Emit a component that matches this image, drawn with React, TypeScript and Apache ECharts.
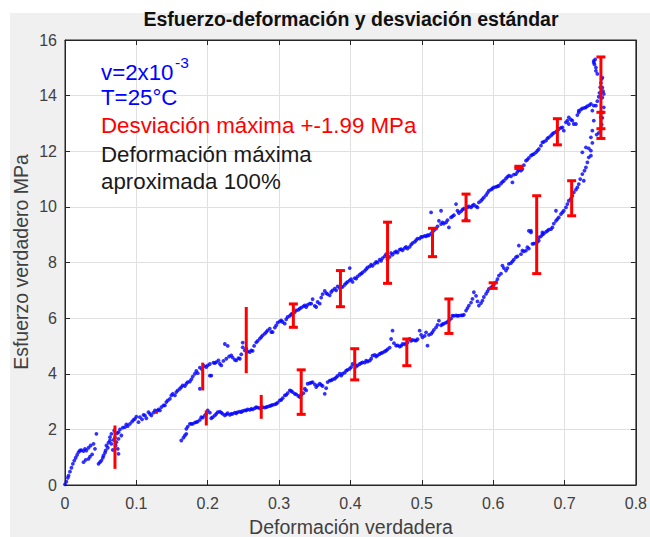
import React, { useEffect, useRef } from "react";
import * as echarts from "echarts";

// Tick labels
const xTicks = ["0", "0.1", "0.2", "0.3", "0.4", "0.5", "0.6", "0.7", "0.8"];
const yTicks = ["0", "2", "4", "6", "8", "10", "12", "14", "16"];

// Loading branch: [true strain, true stress MPa]
const loading: number[][] = [
  [0.000,0.02],[0.002,0.12],[0.004,0.26],[0.005,0.34],[0.007,0.48],[0.009,0.62],[0.011,0.76],[0.013,0.88],[0.015,0.98],[0.017,1.08],
  [0.019,1.18],[0.021,1.24],[0.023,1.25],[0.026,1.22],[0.028,1.30],[0.030,1.24],[0.033,1.34],[0.036,1.42],[0.040,1.48],[0.042,1.30],
  [0.044,1.84],[0.026,0.82],[0.029,0.90],[0.033,0.94],[0.035,1.02],[0.038,1.10],[0.047,0.76],[0.049,0.82],[0.051,0.88],[0.053,0.98],
  [0.054,1.06],[0.056,1.16],[0.057,1.24],[0.058,1.42],[0.060,1.34],[0.061,1.52],[0.063,1.60],[0.063,1.72],[0.065,1.84],[0.065,1.48],
  [0.067,1.26],[0.068,1.62],[0.069,1.96],[0.070,1.70],[0.071,1.42],[0.072,1.54],[0.073,1.86],[0.074,1.30],[0.075,1.66],[0.075,1.90],
  [0.075,1.12],[0.077,2.00],[0.079,1.78],[0.081,2.06],[0.084,2.08],[0.086,2.18],[0.088,2.12],[0.091,2.20],[0.094,2.28],[0.096,2.34],
  [0.098,2.38],[0.100,2.46],[0.103,2.26],[0.105,2.44],[0.108,2.36],[0.110,2.52],[0.112,2.50],[0.114,2.40],[0.117,2.62],[0.119,2.56],
  [0.121,2.50],[0.124,2.60],[0.126,2.68],[0.129,2.66],[0.131,2.72],[0.133,2.68],[0.135,2.80],[0.138,2.86],[0.140,2.86],[0.142,2.98],
  [0.144,3.04],[0.147,3.10],[0.149,3.22],[0.151,3.28],[0.154,3.22],[0.156,3.34],[0.158,3.40],[0.161,3.46],[0.163,3.52],[0.165,3.58],
  [0.168,3.56],[0.170,3.64],[0.172,3.70],[0.175,3.72],[0.177,3.80],[0.179,3.90],[0.182,4.00],[0.184,4.10],[0.186,4.02],[0.189,3.46],
  [0.189,4.22],[0.192,4.16],[0.195,4.28],[0.198,4.24],[0.200,4.30],[0.203,4.35],[0.203,3.93],[0.205,3.93],[0.208,4.40],[0.210,4.38],
  [0.212,4.42],[0.215,4.48],[0.217,4.36],[0.219,4.30],[0.222,4.46],[0.224,5.07],[0.226,4.54],[0.228,5.00],[0.230,4.62],[0.233,4.66],
  [0.235,4.58],[0.238,4.50],[0.240,4.48],[0.243,4.56],[0.245,4.54],[0.247,4.70],[0.249,5.12],[0.249,4.95],[0.252,4.84],[0.254,4.90],
  [0.256,4.80],[0.259,4.78],[0.261,4.84],[0.263,4.82],[0.265,5.00],[0.268,5.13],[0.270,5.18],[0.273,5.26],[0.275,5.32],[0.277,5.38],
  [0.280,5.44],[0.282,5.50],[0.284,5.56],[0.287,5.62],[0.289,5.50],[0.291,5.50],[0.294,5.66],[0.296,5.74],[0.298,5.84],[0.301,5.88],
  [0.303,5.92],[0.305,5.86],[0.308,5.80],[0.310,5.96],[0.312,6.04],[0.315,6.08],[0.317,6.14],[0.319,6.16],[0.322,6.22],[0.324,6.28],
  [0.327,6.30],[0.329,6.34],[0.331,6.38],[0.334,6.42],[0.336,6.46],[0.338,6.40],[0.340,6.48],[0.343,6.52],[0.345,6.52],[0.347,6.68],
  [0.350,6.44],[0.352,6.40],[0.354,6.58],[0.357,6.52],[0.359,6.74],[0.361,6.86],[0.364,6.98],[0.366,6.90],[0.368,6.86],[0.371,6.82],
  [0.373,6.94],[0.375,7.00],[0.378,7.06],[0.380,7.00],[0.382,7.14],[0.385,7.08],[0.387,7.12],[0.389,7.12],[0.392,7.20],[0.394,7.26],
  [0.396,7.30],[0.399,7.36],[0.399,7.80],[0.401,7.40],[0.403,7.30],[0.406,7.44],[0.408,7.42],[0.410,7.50],[0.413,7.56],[0.415,7.60],
  [0.417,7.64],[0.420,7.70],[0.422,7.76],[0.424,7.82],[0.427,7.86],[0.429,7.92],[0.431,7.88],[0.434,7.96],[0.436,8.02],[0.438,8.00],
  [0.441,8.10],[0.443,8.06],[0.445,8.16],[0.448,8.22],[0.450,8.30],[0.452,8.12],[0.455,8.20],[0.457,8.34],[0.459,8.28],[0.462,8.36],
  [0.464,8.40],[0.466,8.36],[0.469,8.46],[0.471,8.48],[0.473,8.44],[0.476,8.52],[0.478,8.56],[0.480,8.50],[0.483,8.56],[0.485,8.64],
  [0.487,8.70],[0.490,8.74],[0.492,8.80],[0.494,8.86],[0.497,8.86],[0.499,8.92],[0.501,8.92],[0.504,8.96],[0.506,8.94],[0.508,8.98],
  [0.510,8.98],[0.513,9.80],[0.513,9.04],[0.515,9.10],[0.517,9.16],[0.520,9.22],[0.522,9.30],[0.524,9.50],[0.527,9.86],[0.527,9.38],
  [0.529,9.44],[0.531,9.40],[0.534,9.44],[0.536,9.52],[0.538,9.26],[0.541,9.62],[0.543,9.66],[0.545,9.70],[0.548,10.10],[0.550,9.86],
  [0.552,9.78],[0.555,9.84],[0.557,9.90],[0.559,9.94],[0.562,9.56],[0.564,9.98],[0.566,10.02],[0.569,9.98],[0.571,10.04],[0.573,10.08],
  [0.576,10.02],[0.578,9.98],[0.580,10.16],[0.583,10.22],[0.585,10.28],[0.587,10.34],[0.590,10.42],[0.592,10.50],[0.594,10.58],[0.597,10.62],
  [0.599,10.66],[0.601,10.70],[0.604,10.72],[0.606,10.74],[0.608,10.76],[0.611,10.84],[0.613,10.90],[0.615,10.94],[0.618,11.02],[0.620,11.08],
  [0.622,11.12],[0.625,11.10],[0.627,10.88],[0.629,11.16],[0.632,11.18],[0.634,11.26],[0.636,11.32],[0.639,11.30],[0.641,11.36],[0.643,11.50],
  [0.646,11.66],[0.648,11.70],[0.650,11.76],[0.653,11.84],[0.655,11.88],[0.657,11.90],[0.660,11.96],[0.662,12.02],[0.664,12.08],[0.667,12.20],
  [0.669,12.32],[0.671,12.34],[0.674,12.38],[0.676,12.46],[0.678,12.50],[0.681,12.56],[0.683,12.62],[0.685,12.66],[0.688,12.70],[0.690,12.74],
  [0.692,12.80],[0.695,12.84],[0.697,12.86],[0.699,12.74],[0.702,13.04],[0.704,13.10],[0.706,13.22],[0.706,12.98],[0.709,13.14],[0.711,13.10],
  [0.713,12.98],[0.716,12.98],[0.718,13.30],[0.720,13.46],[0.720,13.40],[0.723,13.50],[0.725,13.54],[0.728,13.56],[0.730,13.58],[0.732,13.62],
  [0.735,13.66],[0.737,13.70],[0.739,13.46],[0.741,13.64],[0.744,13.64],[0.746,13.80],[0.748,13.96],[0.749,14.10],[0.750,14.30],[0.751,14.46],
  [0.752,14.60],[0.753,14.65],[0.753,14.29],[0.754,14.16],[0.755,14.06],[0.755,13.58],[0.753,13.93],[0.751,13.22],[0.746,14.78],[0.744,14.89],
  [0.744,15.01],[0.742,15.12],[0.741,15.19],[0.741,15.25],[0.743,15.30],
];

// Unloading branch: [true strain, true stress MPa]
const unloading: number[][] = [
  [0.754,13.40],[0.753,13.20],[0.752,12.96],[0.750,12.80],[0.748,12.66],[0.745,12.60],[0.741,13.10],[0.739,12.74],[0.737,12.50],[0.739,12.30],
  [0.737,12.02],[0.734,12.10],[0.730,12.14],[0.737,11.84],[0.734,11.78],[0.725,11.96],[0.732,11.60],[0.730,11.42],[0.728,11.30],[0.725,11.18],
  [0.727,10.94],[0.722,11.00],[0.720,10.82],[0.718,10.70],[0.716,10.62],[0.713,10.52],[0.711,10.40],[0.709,10.30],[0.706,10.22],[0.704,10.10],
  [0.702,9.98],[0.699,9.86],[0.697,9.80],[0.695,9.74],[0.692,9.62],[0.690,9.56],[0.688,9.86],[0.688,9.50],[0.685,9.40],[0.683,9.26],
  [0.681,9.20],[0.678,9.18],[0.676,9.14],[0.674,9.10],[0.671,9.04],[0.669,9.08],[0.669,9.00],[0.667,8.94],[0.664,8.90],[0.664,8.79],
  [0.662,8.74],[0.660,8.70],[0.657,8.68],[0.655,8.67],[0.653,9.14],[0.653,9.08],[0.650,9.14],[0.650,8.50],[0.648,8.55],[0.646,8.43],
  [0.643,8.40],[0.641,8.43],[0.639,8.30],[0.636,8.61],[0.634,8.22],[0.632,8.19],[0.629,8.10],[0.627,8.04],[0.625,7.98],[0.622,7.95],
  [0.620,7.80],[0.618,7.71],[0.615,7.80],[0.613,7.89],[0.611,7.60],[0.608,7.53],[0.606,7.40],[0.604,7.29],[0.601,7.20],[0.599,7.14],
  [0.597,7.10],[0.594,7.05],[0.592,6.96],[0.590,6.87],[0.587,6.76],[0.585,6.63],[0.583,6.54],[0.580,6.45],[0.578,6.60],[0.576,6.80],
  [0.573,6.93],[0.571,6.69],[0.569,6.56],[0.566,6.45],[0.564,6.36],[0.562,6.27],[0.559,6.12],[0.557,6.10],[0.555,6.10],[0.552,6.09],
  [0.550,6.08],[0.548,6.10],[0.545,6.08],[0.543,6.09],[0.541,5.98],[0.538,5.91],[0.536,5.86],[0.534,5.84],[0.531,5.80],[0.529,5.78],
  [0.527,5.74],[0.524,5.91],[0.522,5.76],[0.520,5.67],[0.517,5.58],[0.515,5.50],[0.513,5.43],[0.510,5.40],[0.508,5.01],[0.506,5.49],
  [0.504,5.36],[0.501,5.31],[0.499,5.40],[0.497,5.55],[0.494,5.24],[0.492,5.19],[0.490,5.20],[0.487,5.22],[0.485,5.18],[0.483,5.25],
  [0.480,5.12],[0.478,5.08],[0.476,5.06],[0.473,5.07],[0.471,5.00],[0.469,4.98],[0.466,5.02],[0.464,5.01],[0.461,5.10],[0.459,5.55],
  [0.457,5.25],[0.455,4.94],[0.452,4.88],[0.450,4.83],[0.448,4.80],[0.445,4.76],[0.443,4.74],[0.441,4.71],[0.438,4.66],[0.436,4.62],
  [0.434,4.68],[0.431,4.65],[0.429,4.54],[0.427,4.47],[0.424,4.44],[0.422,4.47],[0.420,4.40],[0.417,4.41],[0.415,4.38],[0.413,4.35],
  [0.410,4.30],[0.408,4.26],[0.406,4.34],[0.403,4.35],[0.401,4.24],[0.399,4.18],[0.396,4.14],[0.394,4.11],[0.392,4.04],[0.389,4.00],
  [0.387,3.93],[0.385,4.00],[0.382,3.92],[0.380,3.87],[0.378,3.82],[0.375,3.80],[0.373,3.76],[0.371,3.75],[0.368,3.70],[0.366,3.48],
  [0.364,3.28],[0.361,3.56],[0.359,3.60],[0.357,3.64],[0.354,3.58],[0.352,3.52],[0.350,3.62],[0.347,3.70],[0.345,3.68],[0.343,3.66],
  [0.340,3.64],[0.338,3.40],[0.336,3.46],[0.334,3.30],[0.331,3.24],[0.329,3.16],[0.327,3.20],[0.324,3.26],[0.322,3.28],[0.319,3.34],
  [0.317,3.38],[0.315,3.40],[0.312,3.30],[0.310,3.24],[0.308,3.22],[0.305,3.12],[0.303,3.06],[0.301,3.04],[0.298,2.96],[0.296,2.92],
  [0.294,2.90],[0.291,2.88],[0.289,2.86],[0.287,2.84],[0.284,2.82],[0.282,2.80],[0.280,2.78],[0.277,2.80],[0.275,2.78],[0.273,2.76],
  [0.270,2.78],[0.268,2.80],[0.266,2.76],[0.263,2.72],[0.261,2.74],[0.259,2.70],[0.256,2.72],[0.254,2.68],[0.252,2.68],[0.249,2.66],
  [0.247,2.62],[0.245,2.64],[0.242,2.62],[0.240,2.58],[0.238,2.60],[0.235,2.56],[0.233,2.56],[0.231,2.52],[0.228,2.58],[0.226,2.54],
  [0.224,2.50],[0.221,2.56],[0.219,2.60],[0.217,2.64],[0.214,2.62],[0.212,2.56],[0.210,2.50],[0.207,2.44],[0.205,2.40],[0.203,2.60],
  [0.200,2.68],[0.198,2.56],[0.196,2.50],[0.193,2.42],[0.191,2.44],[0.189,2.34],[0.186,2.28],[0.184,2.26],[0.182,2.24],[0.179,2.20],
  [0.177,2.20],[0.175,2.20],[0.172,2.10],[0.170,2.02],[0.170,1.84],[0.168,1.78],[0.166,1.70],[0.163,1.60],
];

// Standard deviation bars: [strain, mean stress, deviation]
const deviationPlain: number[][] = [
  [0.070, 1.36, 0.78],
  [0.128, 2.60, 0.04],
  [0.193, 3.90, 0.50],
  [0.254, 5.21, 1.19],
  [0.198, 2.41, 0.27],
  [0.275, 2.81, 0.43],
];
const deviationCapped: number[][] = [
  [0.320, 6.09, 0.42],
  [0.386, 7.06, 0.65],
  [0.452, 8.35, 1.10],
  [0.515, 8.72, 0.51],
  [0.562, 9.98, 0.48],
  [0.636, 11.42, 0.04],
  [0.690, 12.70, 0.47],
  [0.751, 14.10, 1.29],
  [0.751, 12.93, 0.47],
  [0.331, 3.34, 0.80],
  [0.406, 4.34, 0.56],
  [0.479, 4.77, 0.48],
  [0.538, 6.07, 0.62],
  [0.600, 7.17, 0.10],
  [0.661, 9.00, 1.40],
  [0.710, 10.31, 0.63],
];

const FONT = "'Liberation Sans', Arial, Helvetica, sans-serif";
const RED = "#ff0000";
const BLUE = "#0000ff";
const AXIS = "#262626";
const LABEL = "#404040";
const NOTE_SIZE = 22.3;

function errorBarRenderer(capHalf: number) {
  return (params: any, api: any) => {
    const x = api.value(0);
    const m = api.value(1);
    const e = api.value(2);
    const top = api.coord([x, m + e]);
    const bot = api.coord([x, m - e]);
    const style = { stroke: RED, lineWidth: 3 };
    const children: any[] = [
      { type: "line", shape: { x1: top[0], y1: top[1], x2: bot[0], y2: bot[1] }, style },
    ];
    if (capHalf > 0) {
      children.push(
        { type: "line", shape: { x1: top[0] - capHalf, y1: top[1], x2: top[0] + capHalf, y2: top[1] }, style },
        { type: "line", shape: { x1: bot[0] - capHalf, y1: bot[1], x2: bot[0] + capHalf, y2: bot[1] }, style }
      );
    }
    return { type: "group", children };
  };
}

export default function App() {
  const ref = useRef<HTMLDivElement>(null);

  useEffect(() => {
    if (!ref.current) return;
    const chart = echarts.init(ref.current, null, { renderer: "svg" });

    const baseAxis = {
      type: "value" as const,
      axisLine: { show: true, onZero: false, lineStyle: { color: AXIS, width: 1 } },
      axisTick: { show: true, inside: true, length: 5, lineStyle: { color: AXIS } },
    };

    const note = (text: string, x: number, y: number, fill: string, size = NOTE_SIZE) => ({
      type: "text",
      x,
      y,
      z: 10,
      style: { text, fontFamily: FONT, fontSize: size, fill, textVerticalAlign: "middle" },
    });

    chart.setOption({
      animation: false,
      grid: {
        left: 65,
        right: 13,
        top: 40,
        bottom: 52,
        show: true,
        backgroundColor: "#ffffff",
        borderColor: AXIS,
        borderWidth: 1,
      },
      xAxis: [
        {
          ...baseAxis,
          position: "bottom",
          min: 0,
          max: 0.8,
          interval: 0.1,
          axisLabel: {
            fontSize: 16,
            color: LABEL,
            fontFamily: FONT,
            margin: 10,
            formatter: (v: number) => xTicks[Math.round(v * 10)] ?? "",
          },
          splitLine: { show: true, lineStyle: { color: "#e0e0e0", width: 1 } },
        },
        {
          ...baseAxis,
          position: "top",
          min: 0,
          max: 0.8,
          interval: 0.1,
          axisLabel: { show: false },
          splitLine: { show: false },
        },
      ],
      yAxis: [
        {
          ...baseAxis,
          position: "left",
          min: 0,
          max: 16,
          interval: 2,
          axisLabel: {
            fontSize: 16,
            color: LABEL,
            fontFamily: FONT,
            margin: 8,
            formatter: (v: number) => yTicks[Math.round(v / 2)] ?? "",
          },
          splitLine: { show: true, lineStyle: { color: "#e0e0e0", width: 1 } },
        },
        {
          ...baseAxis,
          position: "right",
          min: 0,
          max: 16,
          interval: 2,
          axisLabel: { show: false },
          splitLine: { show: false },
        },
      ],
      series: [
        {
          type: "scatter",
          name: "Carga",
          data: loading,
          symbol: "circle",
          symbolSize: 3.8,
          itemStyle: { color: BLUE },
          z: 3,
        },
        {
          type: "scatter",
          name: "Descarga",
          data: unloading,
          symbol: "circle",
          symbolSize: 3.8,
          itemStyle: { color: BLUE },
          z: 3,
        },
        {
          type: "custom",
          name: "Desviación",
          data: deviationPlain,
          encode: { x: 0, y: 1 },
          renderItem: errorBarRenderer(0),
          z: 5,
        },
        {
          type: "custom",
          name: "Desviación con límites",
          data: deviationCapped,
          encode: { x: 0, y: 1 },
          renderItem: errorBarRenderer(4.5),
          z: 5,
        },
      ],
      graphic: [
        {
          type: "text",
          x: 351,
          y: 19,
          z: 10,
          style: {
            text: "Esfuerzo-deformación y desviación estándar",
            fontFamily: FONT,
            fontSize: 19.5,
            fontWeight: "bold",
            fill: "#111111",
            textAlign: "center",
            textVerticalAlign: "middle",
          },
        },
        {
          type: "text",
          x: 351,
          y: 527,
          z: 10,
          style: {
            text: "Deformación verdadera",
            fontFamily: FONT,
            fontSize: 19.5,
            fill: LABEL,
            textAlign: "center",
            textVerticalAlign: "middle",
          },
        },
        {
          type: "text",
          x: 21,
          y: 262,
          rotation: Math.PI / 2,
          z: 10,
          style: {
            text: "Esfuerzo verdadero MPa",
            fontFamily: FONT,
            fontSize: 19.5,
            fill: LABEL,
            textAlign: "center",
            textVerticalAlign: "middle",
          },
        },
        note("v=2x10", 101, 72, BLUE),
        note("-3", 175, 62, BLUE, 15.5),
        note("T=25°C", 101, 97, BLUE),
        note("Desviación máxima +-1.99 MPa", 101, 125, RED),
        note("Deformación máxima", 101, 154, "#1a1a1a"),
        note("aproximada 100%", 101, 181, "#1a1a1a"),
      ],
    });

    return () => chart.dispose();
  }, []);

  return (
    <div style={{ position: "fixed", left: 0, top: 0, width: 650, height: 537, background: "#ffffff", overflow: "hidden" }}>
      <div style={{ position: "absolute", left: 10, top: 13, width: 640, height: 524, background: "#f0f0f0" }} />
      <div ref={ref} style={{ position: "absolute", left: 0, top: 0, width: 650, height: 537 }} />
    </div>
  );
}
